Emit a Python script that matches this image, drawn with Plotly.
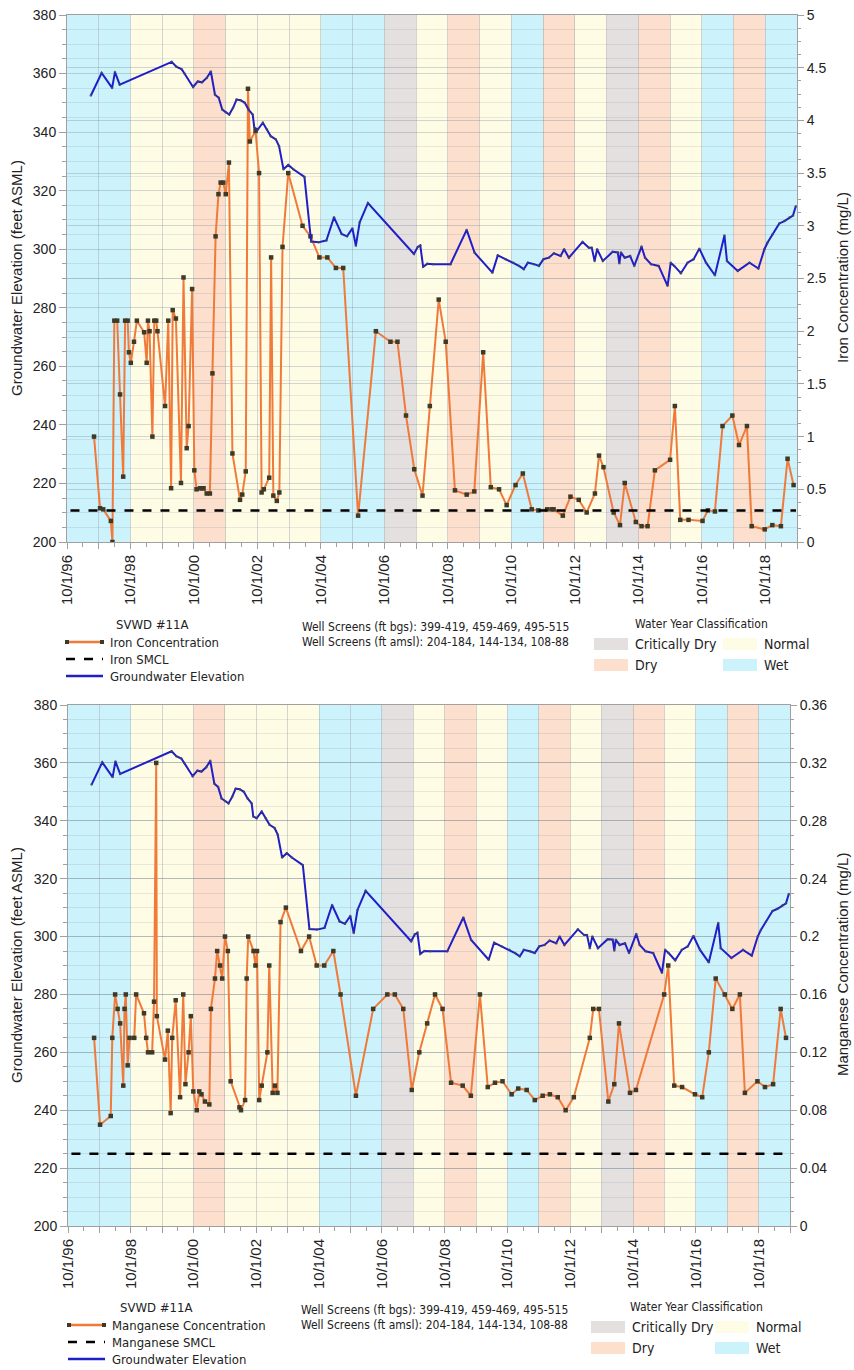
import pandas as pd
import plotly.graph_objects as go

W, H = 854, 1370

# ---------------- data ----------------
wy_years = list(range(1997, 2020))
wy_class = ["Wet", "Wet", "Normal", "Normal", "Dry", "Normal", "Normal", "Normal",
            "Wet", "Wet", "Critically Dry", "Normal", "Dry", "Normal", "Wet", "Dry",
            "Normal", "Critically Dry", "Dry", "Normal", "Wet", "Dry", "Wet"]
class_colors = {"Wet": "#CCF2FC", "Normal": "#FFFCE6", "Dry": "#FCDFCC",
                "Critically Dry": "#E5E0E0"}

# groundwater elevation (decimal year, ft ASML)
gw_t = [1997.50, 1997.84, 1998.17, 1998.26, 1998.41, 2000.05, 2000.20, 2000.36, 2000.45,
        2000.72, 2000.87, 2001.00, 2001.15, 2001.28, 2001.41, 2001.53, 2001.64, 2001.75,
        2001.86, 2001.98, 2002.09, 2002.22, 2002.35, 2002.47, 2002.60, 2002.65, 2002.76,
        2002.92, 2003.05, 2003.17, 2003.33, 2003.43, 2003.57, 2003.72, 2003.88, 2004.23,
        2004.44, 2004.68, 2004.92, 2005.16, 2005.40, 2005.57, 2005.74, 2005.85, 2005.97,
        2006.23, 2007.68, 2007.80, 2007.88, 2007.97, 2008.10, 2008.29, 2008.83, 2009.34,
        2009.59, 2010.15, 2010.32, 2010.57, 2010.81, 2010.99, 2011.14, 2011.27, 2011.46,
        2011.62, 2011.76, 2011.93, 2012.09, 2012.30, 2012.41, 2012.56, 2012.99, 2013.19,
        2013.28, 2013.37, 2013.45, 2013.63, 2013.94, 2014.10, 2014.15, 2014.20, 2014.32,
        2014.49, 2014.62, 2014.85, 2014.96, 2015.15, 2015.39, 2015.67, 2015.77, 2015.88,
        2016.09, 2016.30, 2016.49, 2016.67, 2016.88, 2017.16, 2017.46, 2017.54, 2017.88,
        2018.25, 2018.53, 2018.72, 2018.82, 2018.98, 2019.19, 2019.35, 2019.51, 2019.62,
        2019.71]
gw_v = [352.5, 360.2, 355.1, 360.5, 356.2, 364.0, 362.3, 361.5, 360.0,
        355.4, 357.3, 357.0, 358.5, 360.7, 352.8, 351.7, 347.7, 346.8,
        346.0, 348.3, 351.1, 350.9, 350.0, 347.7, 346.0, 341.5, 340.9,
        343.2, 340.9, 338.6, 337.5, 335.2, 327.3, 328.8, 327.3, 324.7,
        302.6, 302.4, 303.0, 310.9, 305.2, 304.4, 307.1, 301.2, 309.2,
        315.8, 298.4, 300.8, 301.3, 294.0, 295.0, 294.9, 294.9, 306.6,
        298.8, 292.0, 297.9, 296.6, 295.4, 294.3, 293.2, 295.4, 294.9,
        294.3, 296.6, 297.1, 298.6, 297.7, 300.0, 297.1, 302.5, 300.5,
        300.5, 296.0, 300.0, 296.0, 299.1, 298.9, 295.2, 298.9, 297.1,
        297.7, 294.3, 300.9, 297.1, 294.9, 294.3, 287.5, 295.4, 294.3,
        291.8, 295.4, 296.6, 300.2, 295.4, 291.1, 304.7, 296.0, 292.6,
        295.4, 293.4, 300.0, 302.3, 305.1, 308.8, 309.6, 310.8, 311.5,
        314.7]

# iron concentration (decimal year, mg/L)
fe_t = [1997.60, 1997.79, 1997.89, 1998.13, 1998.18, 1998.24, 1998.33, 1998.42, 1998.52,
        1998.58, 1998.66, 1998.70, 1998.76, 1998.86, 1998.95, 1999.18, 1999.26, 1999.30,
        1999.35, 1999.44, 1999.50, 1999.56, 1999.60, 1999.84, 1999.94, 2000.03, 2000.08,
        2000.18, 2000.34, 2000.42, 2000.52, 2000.58, 2000.69, 2000.76, 2000.83, 2000.94,
        2001.00, 2001.05, 2001.15, 2001.25, 2001.33, 2001.43, 2001.52, 2001.59, 2001.67,
        2001.75, 2001.85, 2001.96, 2002.20, 2002.27, 2002.38, 2002.45, 2002.51, 2002.69,
        2002.80, 2002.88, 2002.95, 2003.12, 2003.18, 2003.25, 2003.36, 2003.44, 2003.54,
        2003.72, 2004.17, 2004.42, 2004.70, 2004.95, 2005.22, 2005.45, 2005.92, 2006.48,
        2006.94, 2007.16, 2007.43, 2007.69, 2007.95, 2008.18, 2008.46, 2008.68, 2008.97,
        2009.34, 2009.58, 2009.86, 2010.10, 2010.36, 2010.60, 2010.88, 2011.11, 2011.39,
        2011.60, 2011.88, 2012.02, 2012.08, 2012.37, 2012.61, 2012.87, 2013.12, 2013.38,
        2013.51, 2013.65, 2013.97, 2014.17, 2014.32, 2014.67, 2014.85, 2015.04, 2015.27,
        2015.75, 2015.90, 2016.07, 2016.33, 2016.77, 2016.94, 2017.16, 2017.40, 2017.71,
        2017.92, 2018.17, 2018.32, 2018.73, 2018.97, 2019.24, 2019.45, 2019.64]
fe_v = [1.00, 0.32, 0.31, 0.20, 0.00, 2.10, 2.10, 1.40, 0.62,
        2.10, 2.10, 1.80, 1.70, 1.90, 2.10, 1.99, 1.70, 2.10,
        2.00, 1.00, 2.10, 2.10, 2.00, 1.29, 2.10, 0.51, 2.20,
        2.12, 0.56, 2.51, 0.89, 1.10, 2.40, 0.68, 0.50, 0.51,
        0.51, 0.51, 0.46, 0.46, 1.60, 2.90, 3.30, 3.41, 3.41,
        3.30, 3.60, 0.84, 0.40, 0.45, 0.67, 4.30, 3.80, 3.90,
        3.50, 0.47, 0.50, 0.61, 2.70, 0.44, 0.39, 0.47, 2.80,
        3.50, 3.00, 2.90, 2.70, 2.70, 2.60, 2.60, 0.25, 2.00,
        1.90, 1.90, 1.20, 0.69, 0.44, 1.29, 2.30, 1.90, 0.49,
        0.45, 0.48, 1.80, 0.52, 0.50, 0.35, 0.54, 0.65, 0.31,
        0.30, 0.31, 0.31, 0.31, 0.25, 0.43, 0.40, 0.28, 0.46,
        0.82, 0.71, 0.28, 0.16, 0.56, 0.19, 0.15, 0.15, 0.68,
        0.78, 1.29, 0.21, 0.21, 0.20, 0.30, 0.29, 1.10, 1.20,
        0.92, 1.10, 0.15, 0.12, 0.16, 0.15, 0.79, 0.54]

# manganese concentration (decimal year, mg/L)
mn_t = [1997.58, 1997.77, 1998.11, 1998.16, 1998.25, 1998.33, 1998.41, 1998.51, 1998.55,
        1998.59, 1998.65, 1998.71, 1998.86, 1998.92, 1999.17, 1999.24, 1999.30, 1999.43,
        1999.49, 1999.56, 1999.58, 1999.84, 1999.93, 2000.02, 2000.07, 2000.18, 2000.32,
        2000.42, 2000.49, 2000.59, 2000.66, 2000.74, 2000.85, 2000.93, 2001.00, 2001.11,
        2001.25, 2001.30, 2001.43, 2001.50, 2001.59, 2001.66, 2001.75, 2001.84, 2001.93,
        2002.21, 2002.26, 2002.39, 2002.44, 2002.49, 2002.66, 2002.72, 2002.77, 2002.84,
        2002.92, 2003.10, 2003.16, 2003.27, 2003.34, 2003.42, 2003.52, 2003.69, 2004.17,
        2004.43, 2004.67, 2004.91, 2005.20, 2005.43, 2005.92, 2006.47, 2006.92, 2007.16,
        2007.43, 2007.70, 2007.94, 2008.19, 2008.44, 2008.68, 2008.95, 2009.32, 2009.58,
        2009.87, 2010.12, 2010.35, 2010.59, 2010.88, 2011.09, 2011.36, 2011.62, 2011.87,
        2012.10, 2012.35, 2012.60, 2012.86, 2013.37, 2013.48, 2013.66, 2013.96, 2014.15,
        2014.30, 2014.65, 2014.84, 2015.74, 2015.87, 2016.06, 2016.31, 2016.72, 2016.95,
        2017.16, 2017.38, 2017.67, 2017.91, 2018.15, 2018.31, 2018.71, 2018.95, 2019.21,
        2019.45, 2019.62]
mn_v = [0.130, 0.070, 0.076, 0.130, 0.160, 0.150, 0.140, 0.097, 0.150,
        0.160, 0.111, 0.130, 0.130, 0.160, 0.147, 0.130, 0.120, 0.120,
        0.155, 0.320, 0.145, 0.115, 0.135, 0.078, 0.130, 0.156, 0.089,
        0.160, 0.098, 0.120, 0.145, 0.093, 0.080, 0.093, 0.091, 0.086,
        0.084, 0.150, 0.171, 0.190, 0.180, 0.171, 0.200, 0.190, 0.100,
        0.082, 0.080, 0.087, 0.171, 0.200, 0.190, 0.180, 0.190, 0.087,
        0.097, 0.120, 0.180, 0.092, 0.097, 0.092, 0.210, 0.220, 0.190,
        0.200, 0.180, 0.180, 0.190, 0.160, 0.090, 0.150, 0.160, 0.160,
        0.150, 0.094, 0.120, 0.140, 0.160, 0.150, 0.099, 0.097, 0.090,
        0.160, 0.096, 0.099, 0.100, 0.091, 0.095, 0.094, 0.087, 0.090,
        0.091, 0.089, 0.080, 0.089, 0.130, 0.150, 0.150, 0.086, 0.098,
        0.140, 0.092, 0.094, 0.160, 0.180, 0.097, 0.096, 0.091, 0.089,
        0.120, 0.171, 0.160, 0.150, 0.160, 0.092, 0.100, 0.096, 0.098,
        0.150, 0.130]

fe_smcl = [0.3, 0.3]
mn_smcl = [0.05, 0.05]
smcl_t = ["1996-11-10", "2019-09-20"]

x_range = ["1996-10-01", "2019-10-01"]
tick_dates = [f"{y}-10-01" for y in range(1996, 2020)]
tick_text = ["10/1/96", "", "10/1/98", "", "10/1/00", "", "10/1/02", "", "10/1/04", "",
             "10/1/06", "", "10/1/08", "", "10/1/10", "", "10/1/12", "", "10/1/14", "",
             "10/1/16", "", "10/1/18", ""]


def dy(vals):
    out = []
    for v in vals:
        y = int(v)
        s = pd.Timestamp(year=y, month=1, day=1)
        e = pd.Timestamp(year=y + 1, month=1, day=1)
        out.append(s + (e - s) * (v - y))
    return out


def px(x):
    return x / W


def py(y):
    return 1 - y / H


FONT = "Liberation Sans, Arial, sans-serif"
NARROW = "Liberation Sans Narrow, Arial Narrow, DejaVu Sans Condensed, sans-serif"
ORANGE = "#F07A3A"
MARK = "#3d3b28"
BLUE = "#1F1FC8"
GRID = "rgba(110,125,140,0.30)"
GRIDMINOR = "rgba(110,125,140,0.16)"
AXLINE = "#a0a0a0"

fig = go.Figure()

# ---------- top panel ----------
fig.add_trace(go.Scatter(x=dy(fe_t), y=fe_v, xaxis="x", yaxis="y", mode="lines+markers",
                         line=dict(color=ORANGE, width=2),
                         marker=dict(symbol="square", size=4.5, color=MARK),
                         showlegend=False))
fig.add_trace(go.Scatter(x=smcl_t, y=fe_smcl, xaxis="x", yaxis="y", mode="lines",
                         line=dict(color="black", width=2.5, dash="dash"), showlegend=False))
fig.add_trace(go.Scatter(x=dy(gw_t), y=gw_v, xaxis="x", yaxis="y2", mode="lines+markers",
                         line=dict(color=BLUE, width=2),
                         marker=dict(size=2.5, color="rgba(70,70,90,0.8)"),
                         showlegend=False))

# ---------- bottom panel ----------
fig.add_trace(go.Scatter(x=dy(mn_t), y=mn_v, xaxis="x2", yaxis="y3", mode="lines+markers",
                         line=dict(color=ORANGE, width=2),
                         marker=dict(symbol="square", size=4.5, color=MARK),
                         showlegend=False))
fig.add_trace(go.Scatter(x=smcl_t, y=mn_smcl, xaxis="x2", yaxis="y3", mode="lines",
                         line=dict(color="black", width=2.5, dash="dash"), showlegend=False))
fig.add_trace(go.Scatter(x=dy(gw_t), y=gw_v, xaxis="x2", yaxis="y4", mode="lines+markers",
                         line=dict(color=BLUE, width=2),
                         marker=dict(size=2.5, color="rgba(70,70,90,0.8)"),
                         showlegend=False))

# water-year bands
shapes = []
for yr, cls in zip(wy_years, wy_class):
    for xr, yr_ref in (("x", "y domain"), ("x2", "y3 domain")):
        shapes.append(dict(type="rect", xref=xr, yref=yr_ref,
                           x0=f"{yr-1}-10-01", x1=f"{yr}-10-01", y0=0, y1=1,
                           fillcolor=class_colors[cls], line=dict(width=0), layer="below"))

tick_font = dict(family=FONT, size=14, color="#222")
xtick_font = dict(family=FONT, size=15, color="#222")


def xaxis_cfg(domain, anchor):
    return dict(domain=domain, anchor=anchor, type="date", range=x_range,
                tickmode="array", tickvals=tick_dates, ticktext=tick_text,
                tickangle=-90, tickfont=xtick_font, ticks="outside", ticklen=6,
                tickcolor=AXLINE, showgrid=True, gridcolor=GRID, automargin=False,
                showline=True, linecolor=AXLINE, mirror=True, zeroline=False,
                minor=dict(dtick="M6", tick0="1996-10-01", ticks="outside", ticklen=4,
                           tickcolor=AXLINE, showgrid=False))


def conc_axis(domain, rng, dtick, mdtick):
    return dict(domain=domain, range=rng, side="right", dtick=dtick, tick0=0,
                tickfont=tick_font, ticks="outside", ticklen=6, tickcolor=AXLINE,
                showgrid=True, gridcolor=GRID, zeroline=False, showline=True,
                linecolor=AXLINE, automargin=False,
                minor=dict(dtick=mdtick, ticks="outside", ticklen=3, tickcolor=AXLINE,
                           showgrid=False))


def gw_axis(overlay):
    return dict(range=[200, 380], dtick=20, side="left", overlaying=overlay,
                tickfont=tick_font, ticks="outside", ticklen=7, tickcolor=AXLINE,
                showgrid=True, gridcolor=GRID, zeroline=False, showline=True,
                linecolor=AXLINE, automargin=False,
                minor=dict(dtick=5, ticks="outside", ticklen=4, tickcolor=AXLINE,
                           showgrid=True, gridcolor=GRIDMINOR))


top_dom_y = [py(542), py(15)]
bot_dom_y = [py(1226), py(705)]

ya = conc_axis(top_dom_y, [0, 5], 0.5, 0.125)
ya["anchor"] = "x"
ya2 = gw_axis("y")
ya2["anchor"] = "x"
ya3 = conc_axis(bot_dom_y, [0, 0.36], 0.04, 0.01)
ya3["anchor"] = "x2"
ya4 = gw_axis("y3")
ya4["anchor"] = "x2"

# ---------- legends / labels ----------
ann = []
lfont = dict(family=NARROW, size=13, color="#222")
wfont = dict(family=NARROW, size=12, color="#222")


def text(x, y, s, xanchor="left", font=lfont, angle=0):
    ann.append(dict(x=px(x), y=py(y), xref="paper", yref="paper", text=s,
                    showarrow=False, xanchor=xanchor, yanchor="middle", font=font,
                    textangle=angle))


title_font = dict(family=FONT, size=15, color="#222")
text(16, 278, "Groundwater Elevation (feet ASML)", "center", title_font, -90)
text(842, 278, "Iron Concentration (mg/L)", "center", title_font, -90)
text(16, 965, "Groundwater Elevation (feet ASML)", "center", title_font, -90)
text(842, 965, "Manganese Concentration (mg/L)", "center", title_font, -90)


def legend_block(top, labels, chem_x0, text_x, center_svwd):
    text(center_svwd, top, "SVWD #11A", "center")
    rows = [top + 18, top + 35, top + 52]
    shapes.append(dict(type="line", xref="paper", yref="paper", x0=px(chem_x0), x1=px(chem_x0 + 37),
                       y0=py(rows[0]), y1=py(rows[0]), line=dict(color=ORANGE, width=2.5)))
    for xx in (chem_x0 + 1, chem_x0 + 36):
        shapes.append(dict(type="rect", xref="paper", yref="paper",
                           x0=px(xx - 2), x1=px(xx + 2), y0=py(rows[0] + 2), y1=py(rows[0] - 2),
                           fillcolor=MARK, line=dict(width=0)))
    shapes.append(dict(type="line", xref="paper", yref="paper", x0=px(chem_x0), x1=px(chem_x0 + 37),
                       y0=py(rows[1]), y1=py(rows[1]),
                       line=dict(color="black", width=2.5, dash="dash")))
    shapes.append(dict(type="line", xref="paper", yref="paper", x0=px(chem_x0), x1=px(chem_x0 + 37),
                       y0=py(rows[2]), y1=py(rows[2]), line=dict(color=BLUE, width=2.5)))
    for r, s in zip(rows, labels):
        text(text_x, r, s)


legend_block(624, ["Iron Concentration", "Iron SMCL", "Groundwater Elevation"], 66, 108, 152)
legend_block(1307, ["Manganese Concentration", "Manganese SMCL", "Groundwater Elevation"], 68, 110, 156)

for top, wx in ((627, 300), (1310, 299)):
    text(wx, top, "Well Screens (ft bgs): 399-419, 459-469, 495-515", font=wfont)
    text(wx, top + 15, "Well Screens (ft amsl): 204-184, 144-134, 108-88", font=wfont)


def wyc_block(top, center, sx1, sx2):
    text(center, top, "Water Year Classification", "center", font=wfont)
    items = [("Critically Dry", sx1, top + 20), ("Normal", sx2, top + 20),
             ("Dry", sx1, top + 41), ("Wet", sx2, top + 41)]
    for name, sx, yy in items:
        shapes.append(dict(type="rect", xref="paper", yref="paper",
                           x0=px(sx), x1=px(sx + 34), y0=py(yy + 6), y1=py(yy - 6),
                           fillcolor=class_colors[name], line=dict(width=0)))
        text(sx + 39, yy, name, font=dict(family=NARROW, size=14, color="#222"))


wyc_block(624, 701, 594, 723)
wyc_block(1307, 696, 591, 715)

fig.update_layout(
    width=W, height=H, margin=dict(l=0, r=0, t=0, b=0, autoexpand=False),
    paper_bgcolor="white", plot_bgcolor="white",
    showlegend=False,
    xaxis=xaxis_cfg([px(67), px(797)], "y"),
    xaxis2=xaxis_cfg([px(68), px(790)], "y3"),
    yaxis=ya, yaxis2=ya2, yaxis3=ya3, yaxis4=ya4,
    shapes=shapes, annotations=ann,
)

fig.write_html("out.html", config={"displayModeBar": False},
               post_script="document.body.style.margin='0';document.body.style.overflow='hidden';")
